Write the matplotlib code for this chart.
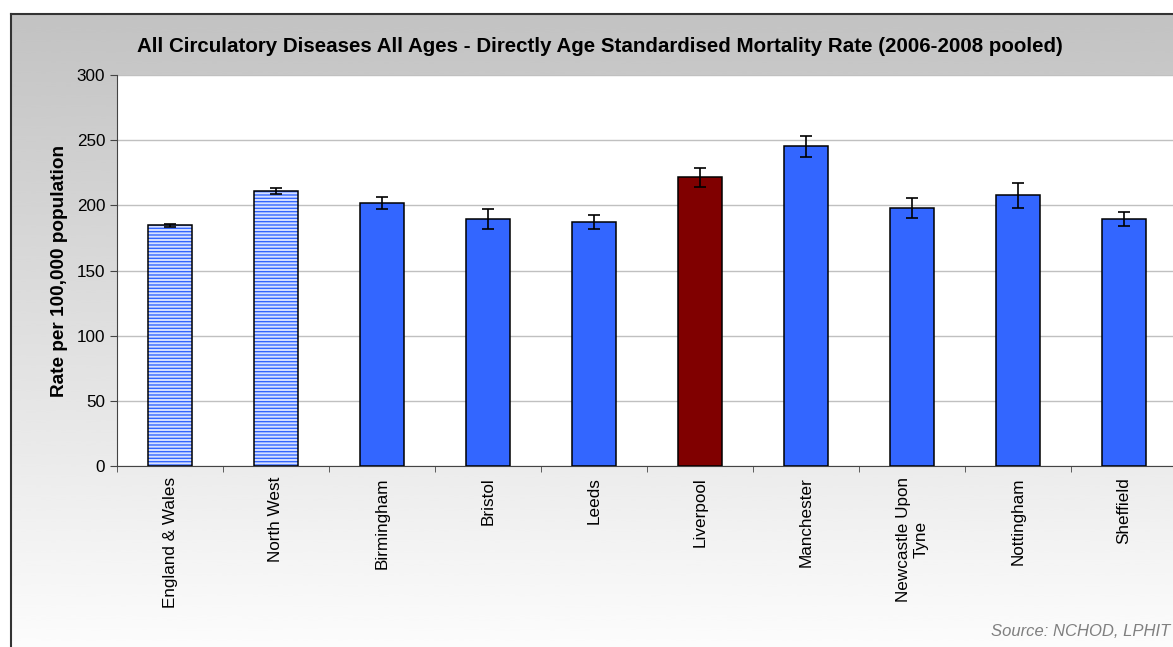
import numpy as np
import matplotlib.pyplot as plt

# Chart data
areas = ["England & Wales", "North West", "Birmingham", "Bristol", "Leeds",
         "Liverpool", "Manchester", "Newcastle Upon\nTyne", "Nottingham", "Sheffield"]
rates = [184.7, 211.3, 201.6, 189.6, 187.0, 221.5, 245.3, 198.0, 207.7, 189.5]
errors = [1.0, 2.3, 4.5, 7.5, 5.5, 7.5, 8.0, 8.0, 9.5, 5.5]
comparators = ["England & Wales", "North West"]
highlight = "Liverpool"

plt.rcParams['font.family'] = ['Liberation Sans', 'DejaVu Sans']

W, H = 1173, 647
fig = plt.figure(figsize=(W / 100, H / 100), dpi=100)

# Grey-to-white gradient background with black frame
bg = fig.add_axes([11 / W, -0.05, 1.1, (H - 14) / H + 0.05])
grad = np.linspace(0, 1, 256).reshape(-1, 1)
bg.imshow(grad, aspect='auto', cmap='gray', vmin=-3.2, vmax=1, extent=[0, 1, 0, 1],
          interpolation='bicubic')
bg.set_xticks([])
bg.set_yticks([])
for s in ["right", "bottom"]:
    bg.spines[s].set_visible(False)
for s in ["left", "top"]:
    bg.spines[s].set_linewidth(1.5)
    bg.spines[s].set_color("#333333")

# Plot area
left, right, top, bottom = 117, 117 + 106 * len(areas), 75, 466
ax = fig.add_axes([left / W, 1 - bottom / H, (right - left) / W, (bottom - top) / H])
ax.set_facecolor("white")

x = np.arange(len(areas))
for i, (name, val, err) in enumerate(zip(areas, rates, errors)):
    if name in comparators:
        ax.bar(i, val, width=0.415, color="#d6e0ff", edgecolor="#3366ff", hatch="-----",
               linewidth=0, zorder=2)
        ax.bar(i, val, width=0.415, fill=False, edgecolor="black", linewidth=1.1, zorder=3)
    else:
        color = "#800000" if name == highlight else "#3366ff"
        ax.bar(i, val, width=0.415, color=color, edgecolor="black", linewidth=1.1, zorder=3)
    ax.errorbar(i, val, yerr=err, color="black", capsize=4.5, elinewidth=1.2,
                capthick=1.2, zorder=4)

ax.set_xlim(-0.5, len(areas) - 0.5)
ax.set_ylim(0, 300)
ax.set_yticks(range(0, 301, 50))
ax.yaxis.grid(True, color="#c0c0c0", linewidth=1, zorder=0)
ax.set_axisbelow(True)
ax.set_xticks(x)
ax.set_xticklabels(areas, rotation=90, fontsize=12.3, va="top", ha="center", multialignment="center")
ax.set_xticks(np.arange(len(areas) + 1) - 0.5, minor=True)
ax.tick_params(axis="x", which="major", length=0, pad=8)
ax.tick_params(axis="x", which="minor", length=4, color="#444444")
ax.tick_params(axis="y", length=5, color="#444444", labelsize=12.3)
for s in ["right", "top"]:
    ax.spines[s].set_visible(False)
for s in ["left", "bottom"]:
    ax.spines[s].set_color("#444444")
ax.set_ylabel("Rate per 100,000 population", fontsize=13.7, fontweight="bold", labelpad=6)

fig.text(600 / W, 1 - 46 / H,
         "All Circulatory Diseases All Ages - Directly Age Standardised Mortality Rate (2006-2008 pooled)",
         ha="center", va="center", fontsize=14.8, fontweight="bold")
fig.text(991 / W, 1 - 632 / H, "Source: NCHOD, LPHIT", ha="left", va="center",
         fontsize=12, style="italic", color="#808080")

plt.savefig("out.png", dpi=100)
plt.close()
